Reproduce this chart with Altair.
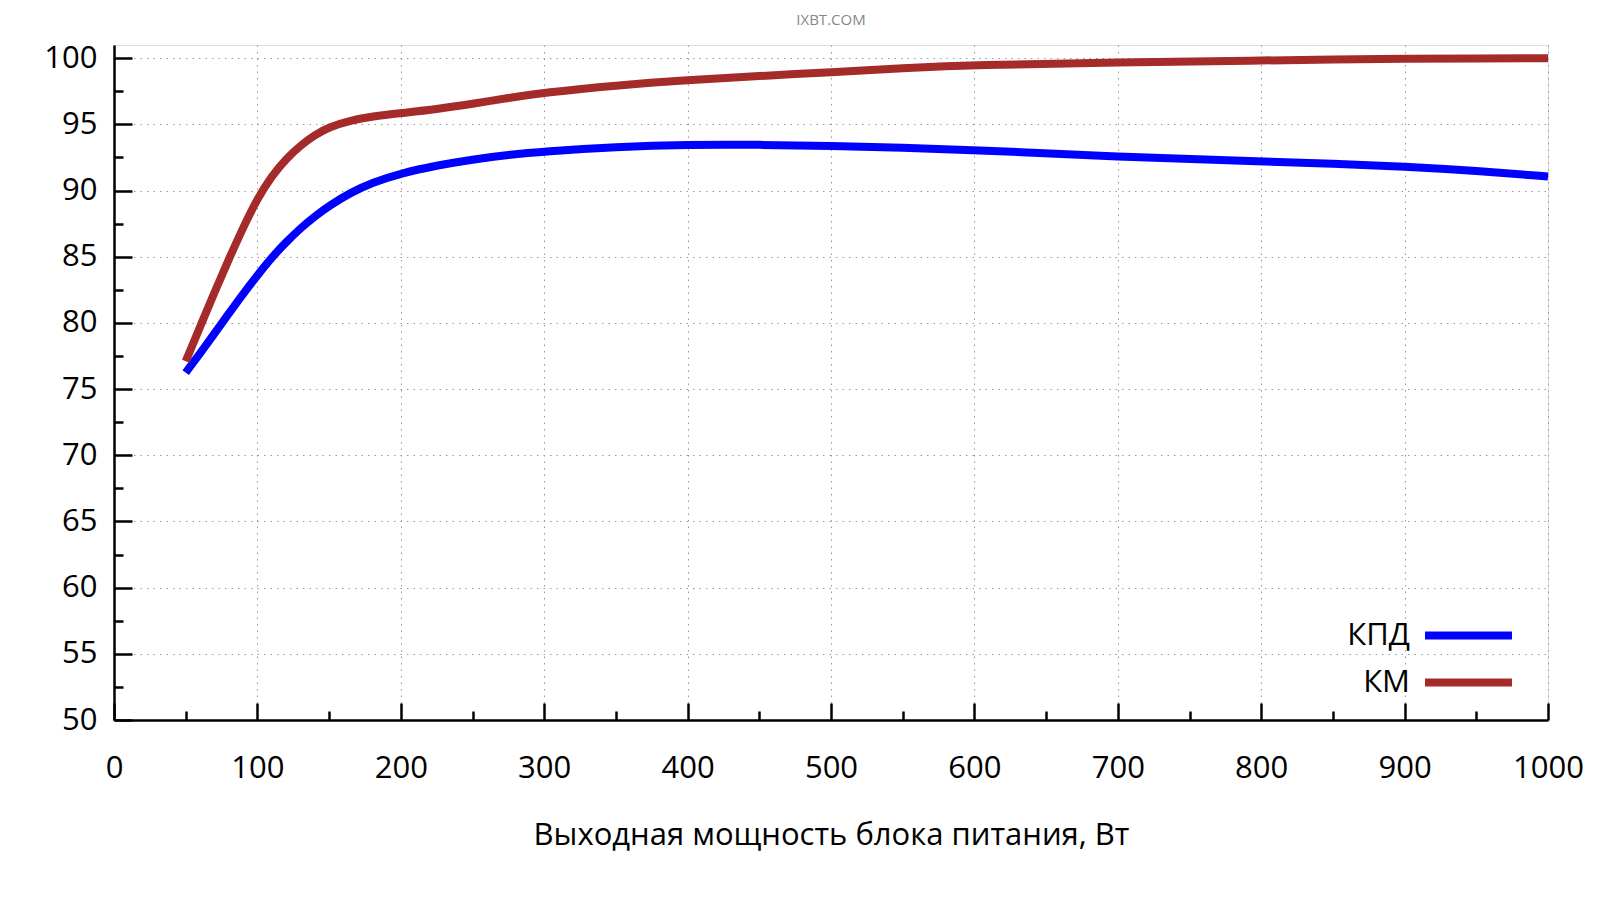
import altair as alt
import pandas as pd

# ---- data ----
power = [50, 60, 70, 80, 90, 100, 110, 120, 130, 140, 150, 165, 180, 200, 225, 250, 275, 300, 350, 400,
         450, 500, 550, 600, 700, 800, 850, 900, 950, 1000]
kpd = [76.25, 77.7, 79.2, 80.7, 82.2, 83.6, 84.95, 86.1, 87.15, 88.05, 88.85, 89.85, 90.6, 91.3, 91.9,
       92.35, 92.7, 92.95, 93.3, 93.48, 93.47, 93.38, 93.25, 93.07, 92.55, 92.2, 92.05, 91.82, 91.5, 91.06]
km = [77.1, 79.7, 82.3, 84.8, 87.2, 89.4, 91.1, 92.4, 93.4, 94.2, 94.8, 95.3, 95.6, 95.85, 96.15,
      96.55, 97.0, 97.4, 97.95, 98.35, 98.65, 98.95, 99.25, 99.5, 99.68, 99.83, 99.9, 99.96, 99.99, 100.0]
series_names = ["КПД", "КМ"]
series_colors = ["#0000ff", "#a52a2a"]
x_labels = list(range(0, 1001, 100))
y_labels = list(range(50, 101, 5))
x_ticks = list(range(0, 1001, 50))
y_ticks = [50 + 2.5 * i for i in range(21)]
x_title = "Выходная мощность блока питания, Вт"
chart_title = "IXBT.COM"

rows = []
for name, vals in zip(series_names, [kpd, km]):
    for p, v in zip(power, vals):
        rows.append({"power": p, "value": v, "series": name})
df = pd.DataFrame(rows)

W, H = 1434, 675
FONT = "Open Sans"

x_scale = alt.Scale(domain=[0, 1000], nice=False, zero=False)
y_scale = alt.Scale(domain=[50, 101], nice=False, zero=False)

main = alt.Chart(df).mark_line(strokeWidth=8, interpolate="basis", strokeCap="butt").encode(
    x=alt.X("power:Q", scale=x_scale,
            axis=alt.Axis(orient="bottom", values=x_labels, title=x_title, format="d",
                          ticks=False, tickSize=0, domain=True, domainColor="black", domainWidth=2.5,
                          grid=True, gridColor="#999999", gridDash=[1.5, 5], gridWidth=1,
                          labelFont=FONT, labelFontSize=31, labelColor="black", labelPadding=33,
                          labelFlush=False, labelOverlap=False,
                          titleFont=FONT, titleFontSize=31, titleFontWeight="normal",
                          titleColor="black", titlePadding=37)),
    y=alt.Y("value:Q", scale=y_scale,
            axis=alt.Axis(orient="left", values=y_labels, title=None, format="d",
                          ticks=False, tickSize=0, domain=True, domainColor="black", domainWidth=2.5,
                          grid=True, gridColor="#999999", gridDash=[1.5, 5], gridWidth=1,
                          labelFont=FONT, labelFontSize=31, labelColor="black", labelPadding=17,
                          labelFlush=False, labelOverlap=False)),
    color=alt.Color("series:N", sort=series_names,
                    scale=alt.Scale(domain=series_names, range=series_colors),
                    legend=alt.Legend(title=None, orient="none", legendX=1339, legendY=575,
                                      symbolType="M-6,0H6", symbolSize=210, symbolStrokeWidth=8,
                                      labelFont=FONT, labelFontSize=31, labelColor="black",
                                      labelAlign="right", labelOffset={"expr": "-74"},
                                      rowPadding=14, padding=0)),
    detail="series:N",
)

ticks_layer = alt.Chart(df).mark_point(opacity=0, size=1).encode(
    x=alt.X("power:Q", scale=x_scale,
            axis=alt.Axis(orient="top", offset=-H, values=x_ticks, title=None, labels=False,
                          domain=False, grid=False, ticks=True, tickColor="black", tickWidth=2.5,
                          tickSize={"condition": {"test": "datum.value % 100 === 0", "value": 17}, "value": 9})),
    y=alt.Y("value:Q", scale=y_scale,
            axis=alt.Axis(orient="right", offset=-W, values=y_ticks, title=None, labels=False,
                          domain=False, grid=False, ticks=True, tickColor="black", tickWidth=2.5,
                          tickSize={"condition": {"test": "datum.value % 5 === 0", "value": 18}, "value": 9})),
)

chart = alt.layer(main, ticks_layer).resolve_axis(x="independent", y="independent").properties(
    width=W, height=H,
    title=alt.TitleParams(chart_title, font=FONT, fontSize=15, fontWeight="normal", color="#888888",
                          anchor="middle", offset=14),
    autosize=alt.AutoSizeParams(type="none"),
    padding={"left": 106, "top": 37, "right": 44, "bottom": 172},
).configure_view(stroke=None).configure(background="white")

chart.save("out.html", embed_options={"renderer": "svg", "actions": False})
